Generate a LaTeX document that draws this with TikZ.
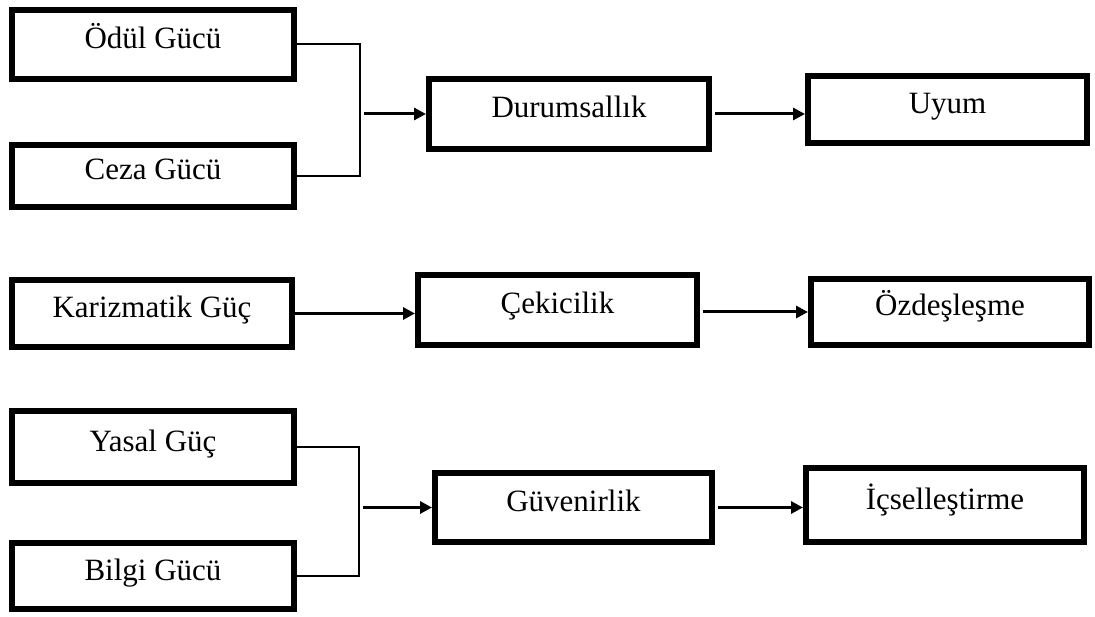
\documentclass[tikz,border=0pt]{standalone}
\usepackage{fontspec}
\setmainfont{Liberation Serif}
\usetikzlibrary{positioning,arrows.meta}

\begin{document}
\begin{tikzpicture}[x=1pt,y=-1pt,
  kutu/.style={draw,line width=6pt,inner sep=0pt,
    font=\fontsize{31}{36}\selectfont,text height=21pt,text depth=13pt},
  ok/.style={line width=3pt,-{Triangle[length=12pt,width=12pt]}},
  cizgi/.style={line width=2pt}]
\useasboundingbox (0,0) rectangle (1095,617);

% ust satir
\node[kutu,minimum width=282pt,minimum height=69pt] (odul) at (153,44.5) {Ödül Gücü};
\node[kutu,minimum width=282pt,minimum height=62pt] (ceza) at (153,176) {Ceza Gücü};
\node[kutu,minimum width=280pt,minimum height=70pt] (durum) at (569,114) {Durumsallık};
\node[kutu,minimum width=279pt,minimum height=67pt] (uyum) at (947.5,109.5) {Uyum};

% orta satir
\node[kutu,minimum width=280pt,minimum height=67pt] (kariz) at (152,313.5) {Karizmatik Güç};
\node[kutu,minimum width=279pt,minimum height=70pt] (cekici) at (557.5,310) {Çekicilik};
\node[kutu,minimum width=278pt,minimum height=66pt] (ozdes) at (950,312) {Özdeşleşme};

% alt satir
\node[kutu,minimum width=282pt,minimum height=72pt] (yasal) at (153,447) {Yasal Güç};
\node[kutu,minimum width=282pt,minimum height=66pt] (bilgi) at (153,576) {Bilgi Gücü};
\node[kutu,minimum width=277pt,minimum height=69pt] (guven) at (573.5,507.5) {Güvenirlik};
\node[kutu,minimum width=278pt,minimum height=74pt] (icsel) at (945,505) {İçselleştirme};

\coordinate (j1) at (360,110);
\coordinate (a1) at (364,114);
\coordinate (j2) at (359,510);
\coordinate (a2) at (363,507.5);

\draw[cizgi] (odul.east) -| (j1) |- (ceza.east);
\draw[ok] (a1) -- (durum.west);
\draw[ok] ([xshift=3pt]durum.east) -- (durum.east -| uyum.west);

\draw[ok] (kariz.east) -- (kariz.east -| cekici.west);
\draw[ok] ([xshift=3pt]cekici.east |- ozdes.west) -- (ozdes.west);

\draw[cizgi] (yasal.east) -| (j2) |- (bilgi.east);
\draw[ok] (a2) -- (guven.west);
\draw[ok] ([xshift=3pt]guven.east) -- (guven.east -| icsel.west);
\end{tikzpicture}
\end{document}
